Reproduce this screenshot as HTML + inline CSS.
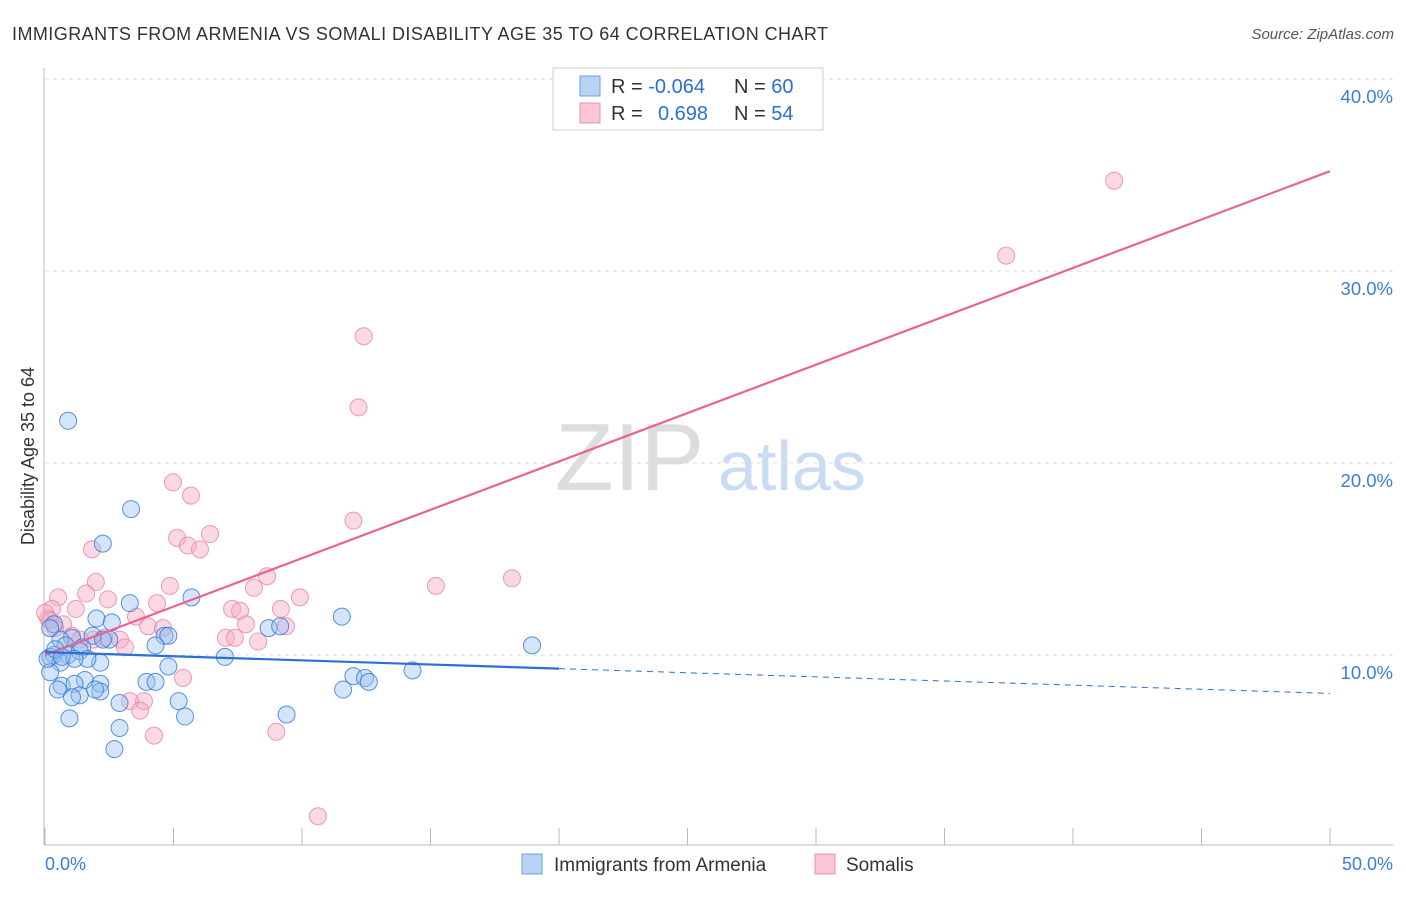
<!DOCTYPE html>
<html><head><meta charset="utf-8"><style>
body{margin:0;background:#fff;font-family:"Liberation Sans",sans-serif}
svg text{font-family:"Liberation Sans",sans-serif}
</style></head><body>
<svg id="c" width="1406" height="892" xmlns="http://www.w3.org/2000/svg">
<text x="12" y="40" font-size="18" fill="#333" textLength="816">IMMIGRANTS FROM ARMENIA VS SOMALI DISABILITY AGE 35 TO 64 CORRELATION CHART</text>
<text x="1394" y="39" font-size="15" fill="#555" text-anchor="end" font-style="italic">Source: ZipAtlas.com</text>
<text x="34" y="456" font-size="18" fill="#333" text-anchor="middle" transform="rotate(-90 34 456)">Disability Age 35 to 64</text>
<text x="555" y="490" font-size="96" fill="#ddd" font-family="Liberation Serif">ZIP</text>
<text x="718" y="490" font-size="70" fill="#c9dcf3">atlas</text>
<g id="grid"></g><g id="pts"></g><g id="lines"></g>
<g>
<rect x="553" y="68" width="270" height="62" fill="#fff" stroke="#ccc"/>
<rect x="580" y="76" width="20" height="20" fill="#b9d3f5" stroke="#6a9fe0"/>
<rect x="580" y="103" width="20" height="20" fill="#f9c6d5" stroke="#ec8fac"/>
<text x="611" y="93" font-size="20" fill="#333">R = <tspan fill="#2a6fd6">-0.064</tspan></text>
<text x="734" y="93" font-size="20" fill="#333">N = <tspan fill="#2a6fd6">60</tspan></text>
<text x="611" y="120" font-size="20" fill="#333">R = <tspan fill="#2a6fd6" x="658">0.698</tspan></text>
<text x="734" y="120" font-size="20" fill="#333">N = <tspan fill="#2a6fd6">54</tspan></text>
</g>
<g>
<rect x="522" y="854" width="20" height="20" fill="#b9d3f5" stroke="#6a9fe0"/>
<text x="554" y="871" font-size="19" fill="#333">Immigrants from Armenia</text>
<rect x="815" y="854" width="20" height="20" fill="#f9c6d5" stroke="#ec8fac"/>
<text x="846" y="871" font-size="19" fill="#333">Somalis</text>
</g>
<text x="45" y="870" font-size="18" fill="#3b7ddd">0.0%</text>
<text x="1393" y="870" font-size="18" fill="#3b7ddd" text-anchor="end">50.0%</text>
</svg>
<script>
const yTicks=[10,20,30,40];
const blueX=[0.9,3.35,2.25,5.7,3.3,2.0,2.6,0.35,4.65,4.8,1.85,1.05,0.6,0.8,1.45,4.3,2.5,0.35,0.9,1.35,0.2,2.15,0.6,4.8,7.0,0.2,1.55,0.65,1.15,2.15,3.95,4.3,0.5,1.35,2.15,2.9,5.2,5.45,0.95,2.9,2.7,8.7,9.15,11.55,18.95,14.3,12.0,12.45,12.6,11.6,9.4,0.1,0.4,1.65,1.15,0.65,0.2,1.05,1.95,2.25];
const blueY=[22.2,17.6,15.8,13.0,12.7,11.9,11.7,11.6,11.0,11.0,11.0,10.9,10.8,10.5,10.4,10.5,10.8,10.0,10.0,10.2,9.9,9.6,9.6,9.4,9.9,9.1,8.7,8.4,8.5,8.5,8.6,8.6,8.2,7.9,8.1,7.5,7.6,6.8,6.7,6.2,5.1,11.4,11.5,12.0,10.5,9.2,8.9,8.8,8.6,8.2,6.9,9.8,10.3,9.8,9.8,9.9,11.4,7.8,8.2,10.8];
const pinkX=[41.6,37.4,12.4,12.2,4.98,5.68,12.0,6.42,5.14,5.56,6.03,1.83,18.17,15.21,1.98,8.64,4.86,0.51,2.45,1.6,8.13,9.92,4.36,1.2,3.54,0.27,7.28,7.59,9.18,0.12,0.7,4.01,4.59,7.82,9.38,0.39,1.05,2.3,7.04,7.39,2.92,8.29,3.11,0.0,5.37,3.85,3.31,3.7,9.0,4.24,10.62,1.87,1.36,0.2];
const pinkY=[34.7,30.8,26.6,22.9,19.0,18.3,17.0,16.3,16.1,15.7,15.5,15.5,14.0,13.6,13.8,14.1,13.6,13.0,12.9,13.2,13.5,13.0,12.7,12.4,12.0,12.4,12.4,12.3,12.4,11.9,11.6,11.5,11.4,11.6,11.5,11.4,11.0,10.9,10.9,10.9,10.8,10.7,10.4,12.2,8.8,7.6,7.6,7.1,6.0,5.8,1.6,10.8,10.8,11.8];
const pinkLine=[10.0,35.2];
const blueLine=[10.15,8.0];
const blueSolidEnd=20;
const NS='http://www.w3.org/2000/svg';
const X=v=>45+v*25.7, Y=v=>655-(v-10)*19.2;
function mk(t,a,p){const e=document.createElementNS(NS,t);for(const k in a)e.setAttribute(k,a[k]);p.appendChild(e);return e;}
const grid=document.getElementById('grid');
yTicks.forEach(t=>{
 const l=mk('line',{x1:45,x2:1393,y1:Y(t),y2:Y(t),stroke:'#ddd','stroke-dasharray':'4 4'},grid);
 
 
 const tx=mk('text',{x:1393,y:Y(t)+24,'font-size':18.5,fill:'#3b7ddd','text-anchor':'end'},grid);
 tx.textContent=t.toFixed(1)+'%';
 
 
});
const ax=mk('line',{x1:44,x2:44,y1:68,y2:845,stroke:'#bbb'},grid);


const bx=mk('line',{x1:44,x2:1393,y1:845,y2:845,stroke:'#bbb'},grid);


for(let i=0;i<=10;i++){const t=mk('line',{x1:X(i*5),x2:X(i*5),y1:828,y2:845,stroke:'#bbb'},grid);
 
 }
const pts=document.getElementById('pts');
pinkX.forEach((x,i)=>{const c=mk('circle',{cx:X(x),cy:Y(pinkY[i]),r:8.5,fill:'rgba(246,170,195,0.45)',stroke:'rgba(236,130,165,0.8)','stroke-width':1},pts);
 
 });
blueX.forEach((x,i)=>{const c=mk('circle',{cx:X(x),cy:Y(blueY[i]),r:8.5,fill:'rgba(150,190,240,0.4)',stroke:'rgba(50,120,215,0.8)','stroke-width':1},pts);
 
 });
const lines=document.getElementById('lines');
const bl=v=>blueLine[0]+(blueLine[1]-blueLine[0])*v/50;
const pl=mk('line',{x1:X(0),y1:Y(pinkLine[0]),x2:X(50),y2:Y(pinkLine[1]),stroke:'#e8648f','stroke-width':2.2},lines);


const b1=mk('line',{x1:X(0),y1:Y(bl(0)),x2:X(blueSolidEnd),y2:Y(bl(blueSolidEnd)),stroke:'#2a6fd6','stroke-width':2.2},lines);


const b2=mk('line',{x1:X(blueSolidEnd),y1:Y(bl(blueSolidEnd)),x2:X(50),y2:Y(bl(50)),stroke:'#2a6fd6','stroke-width':1,'stroke-dasharray':'6 5'},lines);


</script>
</body></html>
